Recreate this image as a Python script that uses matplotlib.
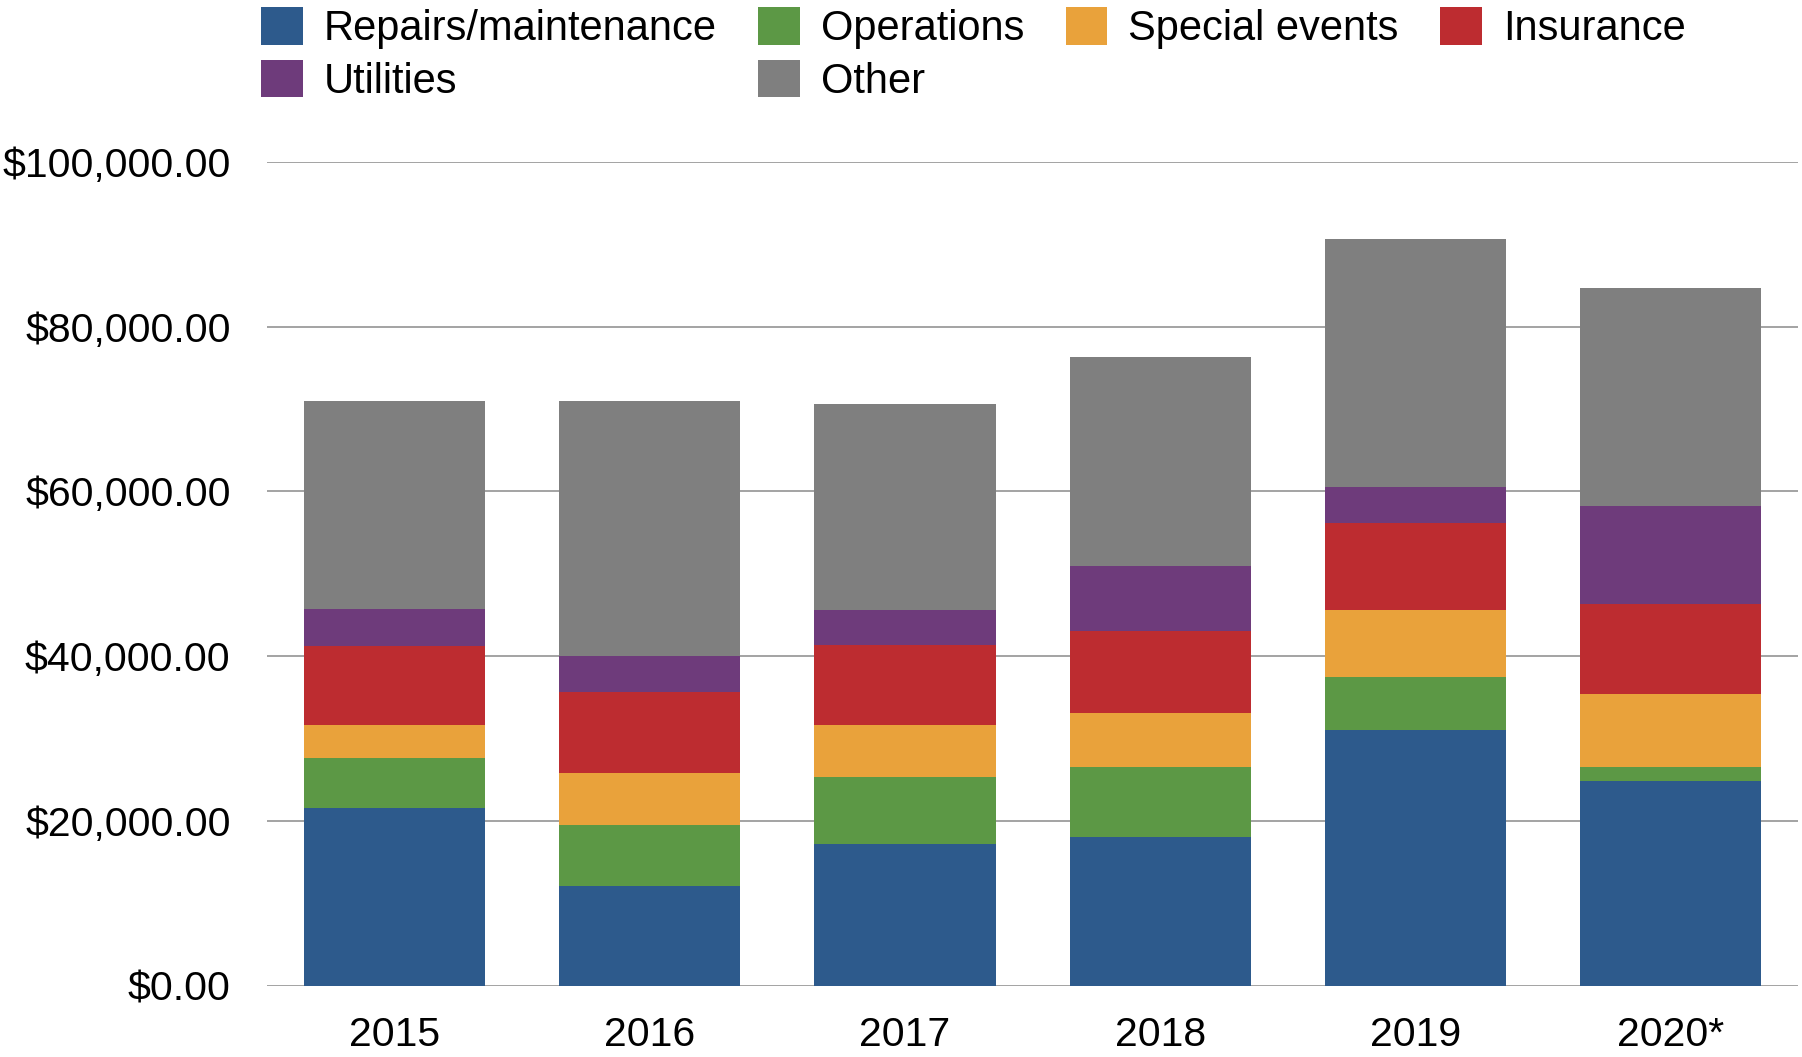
import matplotlib.pyplot as plt
from matplotlib.patches import Patch
from matplotlib.ticker import FuncFormatter
import numpy as np

plt.rcParams['font.family'] = ['Liberation Sans', 'DejaVu Sans']

##### Data (dollars) #####
years = ['2015', '2016', '2017', '2018', '2019', '2020*']
repairs = [21600, 12100, 17200, 18000, 31000, 24800]
operations = [6000, 7400, 8200, 8600, 6500, 1700]
special_events = [4100, 6300, 6300, 6500, 8100, 8900]
insurance = [9600, 9800, 9700, 10000, 10600, 11000]
utilities = [4400, 4400, 4200, 7900, 4300, 11800]
other = [25300, 31000, 25000, 25300, 30200, 26500]

series = [
    ('Repairs/maintenance', repairs, '#2d5a8c'),
    ('Operations', operations, '#5c9845'),
    ('Special events', special_events, '#e9a23b'),
    ('Insurance', insurance, '#bd2c30'),
    ('Utilities', utilities, '#6e3b7b'),
    ('Other', other, '#7f7f7f'),
]

##### Plot #####
fig = plt.figure(figsize=(18.02, 10.57), dpi=100)
ax = fig.add_axes([0.148, 0.0674, 0.850, 0.7794])

x = np.arange(len(years))
bottom = np.zeros(len(years))
for name, vals, color in series:
    ax.bar(x, vals, width=0.71, bottom=bottom, color=color, zorder=3)
    bottom += np.array(vals)

ax.set_xlim(-0.5, len(years) - 0.5)
ax.set_ylim(0, 100000)
ax.set_yticks(np.arange(0, 100001, 20000))
ax.yaxis.set_major_formatter(FuncFormatter(lambda v, p: f'${v:,.2f}'))
ax.set_xticks(x)
ax.set_xticklabels(years)

ax.grid(axis='y', color='#8a8a8a', linewidth=1.1, zorder=0)
for s in ax.spines.values():
    s.set_visible(False)
ax.tick_params(axis='both', length=0, labelsize=29.5, colors='black')
ax.tick_params(axis='y', pad=26)
ax.tick_params(axis='x', pad=22)

# legend order chosen so columns fill as in the original
order = [0, 4, 1, 5, 2, 3]
handles = [Patch(facecolor=series[i][2], edgecolor='none') for i in order]
labels = [series[i][0] for i in order]
fig.legend(handles, labels, loc='upper left', bbox_to_anchor=(0.1425, 0.997),
           ncol=4, frameon=False, fontsize=30, handlelength=1.0,
           handleheight=1.0, handletextpad=0.5, columnspacing=1.0,
           labelspacing=0.25, borderpad=0.1, borderaxespad=0)

plt.savefig('out.png', dpi=100)
